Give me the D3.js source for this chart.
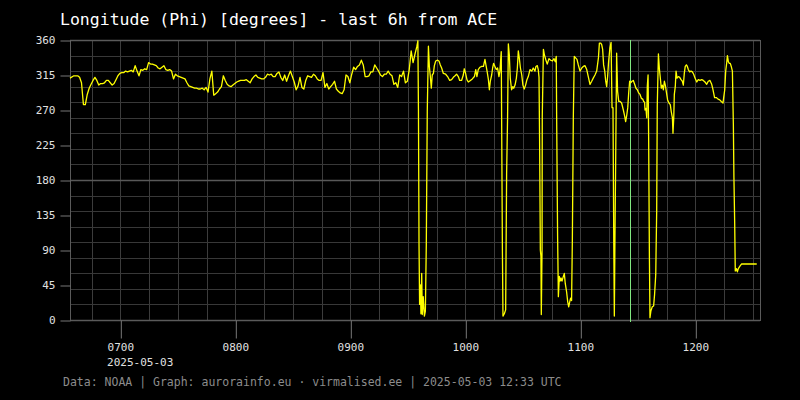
<!DOCTYPE html>
<html><head><meta charset="utf-8">
<script src="https://cdn.jsdelivr.net/npm/d3@7"></script>
<style>html,body{margin:0;padding:0;background:#000;}svg{display:block;}</style>
</head><body><svg id="c" width="800" height="400"></svg>
<script>
const title = "Longitude (Phi) [degrees] - last 6h from ACE";
const footer = "Data: NOAA | Graph: aurorainfo.eu \u00b7 virmalised.ee | 2025-05-03 12:33 UTC";
const startTime = "2025-05-03T06:33:45Z";
const endTime = "2025-05-03T12:33:45Z";
const dateLabel = "2025-05-03";
const yTicks = [0, 45, 90, 135, 180, 225, 270, 315, 360];
const markerTime = "2025-05-03T11:26:03Z";

// minutes after startTime
const minutes = [
  0, 2, 4, 5, 6, 7, 8, 9, 10, 11,
  12, 13, 14, 15, 16, 17, 18, 19, 20, 21,
  22, 23, 24, 25, 26, 27, 28, 29, 30, 31,
  32, 33, 34, 35, 36, 37, 38, 39, 40, 41,
  42, 43, 44, 45, 46, 47, 48, 49, 50, 51,
  52, 53, 54, 55, 56, 57, 58, 59, 60, 61,
  62, 63, 64, 65, 66, 67, 68, 69, 70, 71,
  72, 73, 74, 75, 76, 77, 78, 79, 80, 81,
  82, 83, 84, 85, 86, 87, 88, 89, 90, 91,
  92, 93, 94, 95, 96, 97, 98, 99, 100, 101,
  102, 103, 104, 105, 106, 107, 108, 109, 110, 111,
  112, 113, 114, 115, 116, 117, 118, 119, 120, 121,
  122, 123, 124, 125, 126, 127, 128, 129, 130, 131,
  132, 133, 134, 135, 136, 137, 138, 139, 140, 141,
  142, 143, 144, 145, 146, 147, 148, 149, 150, 151,
  152, 153, 154, 155, 156, 157, 158, 159, 160, 161,
  162, 163, 164, 165, 166, 167, 168, 169, 170, 171,
  172, 173, 174, 175, 176, 177, 178, 179, 180, 181,
  181.5, 181.8, 182.1, 182.4, 182.8, 183.1, 183.5, 183.8, 184.3, 184.9,
  185.4, 185.9, 186.4, 187, 187.5, 188, 188.5, 189, 189.6, 190.1,
  190.8, 191.8, 192.5, 193.2, 193.9, 194.8, 196, 197, 198.1, 199.1,
  200, 200.9, 201.7, 202.6, 203.3, 204.3, 205.2, 205.7, 206.4, 207.1,
  207.8, 208.9, 209.9, 211, 211.7, 212.3, 213, 213.9, 214.8, 215.7,
  216.5, 217, 217.6, 218.3, 218.8, 219.3, 220, 220.5, 221, 221.7,
  222.4, 223.1, 223.8, 224.3, 225, 225.2, 225.6, 225.9, 226.6, 227.3,
  227.8, 228.3, 228.7, 229.2, 229.7, 230.4, 231, 231.5, 232.2, 232.9,
  233.4, 233.9, 234.4, 235, 235.7, 236.3, 237, 237.7, 238.4, 239.1,
  240, 240.9, 241.7, 242.6, 243.1, 243.8, 244.3, 244.7, 245, 245.4,
  245.7, 245.9, 246.3, 246.4, 247, 247.5, 248.2, 249, 249.9, 250.8,
  251.7, 252.5, 253.2, 253.7, 253.9, 254.4, 254.8, 255.3, 255.7, 256.2,
  256.7, 257.4, 257.9, 258.4, 259.1, 259.7, 260.2, 260.7, 261.2, 261.7,
  262.1, 262.6, 263.1, 263.8, 264.5, 265.2, 266.1, 267, 267.8, 268.7,
  269.6, 270.4, 271.3, 272.2, 273, 273.9, 274.8, 275.7, 276.2, 276.9,
  277.4, 277.9, 278.4, 279, 279.5, 280, 280.5, 281, 281.7, 282.3,
  282.8, 283.3, 283.7, 284, 284.3, 284.9, 285.2, 285.7, 286.3, 287,
  287.8, 288.7, 289.4, 289.9, 290.4, 291, 291.5, 292, 292.5, 293.2,
  293.9, 294.6, 295.3, 296, 296.7, 297.4, 298.1, 298.8, 299.3, 299.8,
  300, 300.5, 300.9, 301.2, 301.6, 301.9, 302.3, 302.6, 303.1, 303.8,
  304.5, 305, 305.6, 306.1, 306.4, 307, 307.5, 308, 308.5, 309,
  309.6, 310.1, 310.6, 311.1, 311.8, 312.5, 313.2, 313.7, 314.3, 314.6,
  315, 315.3, 315.8, 316.2, 316.7, 317.4, 318.1, 318.8, 319.5, 320,
  320.5, 321, 321.6, 322.1, 322.6, 323.3, 324, 324.7, 325.4, 326.1,
  327, 327.8, 328.7, 329.6, 330.4, 331.3, 332.2, 333, 333.9, 334.8,
  335.3, 335.8, 336.3, 337.2, 338.1, 339, 339.8, 340.7, 341, 341.6,
  342.1, 342.6, 343, 343.5, 344, 344.5, 345, 345.6, 346.1, 346.4,
  346.8, 347.1, 347.7, 348.2, 348.7, 349.2, 349.7, 350.4, 351.3, 358.3
];

// Longitude Phi in degrees
const phi = [
  311, 314, 314, 312, 305, 277, 277, 290, 298, 303,
  308, 312, 308, 302, 304, 304, 305, 308, 308, 305,
  302, 304, 309, 314, 317, 318, 318, 320, 319, 320,
  321, 319, 327, 320, 314, 322, 321, 323, 322, 331,
  329, 329, 328, 327, 324, 323, 325, 327, 322, 321,
  322, 320, 310, 316, 314, 313, 312, 311, 310, 305,
  301, 300, 299, 298, 298, 297, 297, 298, 296, 299,
  293, 310, 320, 289, 291, 293, 297, 300, 314, 308,
  303, 301, 300, 302, 304, 306, 307, 308, 308, 308,
  309, 307, 305, 310, 313, 315, 312, 311, 310, 310,
  312, 316, 315, 316, 313, 313, 317, 319, 312, 308,
  315, 307, 314, 320, 313, 306, 296, 301, 312, 299,
  297, 308, 314, 313, 312, 316, 314, 310, 308, 308,
  318, 299, 304, 297, 300, 303, 307, 297, 294, 292,
  291, 296, 315, 313, 305, 316, 325, 322, 326, 328,
  334, 328, 313, 313, 314, 319, 319, 328, 324, 320,
  315, 313, 316, 316, 320, 316, 314, 303, 305, 299,
  315, 313, 320, 305, 307, 322, 346, 331, 342, 352,
  359, 272, 97, 20, 45, 8, 60, 7, 30, 5,
  11, 97, 268, 352, 326, 313, 298, 315, 317, 327,
  333, 334, 333, 328, 324, 317, 316, 313, 308, 309,
  312, 314, 316, 313, 308, 308, 315, 323, 317, 309,
  306, 308, 310, 313, 322, 313, 322, 325, 326, 326,
  335, 328, 320, 309, 296, 307, 315, 324, 330, 326,
  322, 324, 313, 320, 345, 260, 90, 5, 8, 13,
  187, 260, 355, 341, 311, 296, 300, 298, 302, 311,
  324, 346, 337, 324, 315, 302, 297, 302, 309, 313,
  322, 320, 324, 320, 326, 327, 322, 312, 234, 90,
  82, 7, 93, 262, 348, 341, 335, 329, 336, 334,
  333, 336, 332, 339, 264, 108, 30, 56, 50, 54,
  50, 56, 60, 47, 36, 23, 17, 23, 28, 25,
  103, 260, 339, 337, 335, 328, 320, 324, 326, 327,
  322, 313, 303, 307, 311, 315, 320, 337, 356, 356,
  354, 348, 328, 320, 307, 300, 313, 332, 350, 357,
  273, 273, 101, 5, 98, 260, 343, 294, 281, 281,
  279, 270, 262, 255, 262, 273, 292, 307, 305, 307,
  308, 303, 298, 296, 292, 290, 285, 284, 281, 280,
  270, 272, 260, 300, 315, 236, 80, 3, 12, 17,
  18, 33, 58, 140, 275, 342, 323, 311, 298, 302,
  296, 307, 302, 294, 283, 279, 277, 268, 260, 240,
  260, 290, 300, 320, 311, 313, 312, 309, 307, 302,
  317, 326, 328, 326, 322, 319, 320, 319, 316, 311,
  306, 309, 308, 309, 308, 306, 303, 307, 308, 303,
  298, 292, 286, 286, 284, 283, 281, 279, 285, 296,
  320, 330, 340, 332, 330, 330, 326, 320, 251, 183,
  123, 63, 66, 62, 66, 68, 70, 72, 72, 72
];

const FONT = "'DejaVu Sans Mono', 'Liberation Mono', monospace";
const svg = d3.select("#c");
const L = 70, R = 760, T = 40, B = 320;
const t0 = new Date(startTime);
const x = d3.scaleUtc().domain([t0, new Date(endTime)]).range([L, R]);
const y = d3.scaleLinear().domain([0, 360]).range([B, T]);
const px = v => Math.round(v) + 0.5;

svg.append("rect").attr("width", 800).attr("height", 400).attr("fill", "#000");

// grid
const g = svg.append("g");
g.selectAll("line.vg").data(x.ticks(d3.utcMinute.every(15))).join("line")
  .attr("x1", d => px(x(d))).attr("x2", d => px(x(d)))
  .attr("y1", T).attr("y2", B).attr("stroke", "#3c3c3c").attr("stroke-width", 1);
g.selectAll("line.hg").data(y.ticks(24)).join("line")
  .attr("x1", L).attr("x2", R)
  .attr("y1", d => px(y(d))).attr("y2", d => px(y(d)))
  .attr("stroke", d => d % 45 === 0 ? "#585858" : "#383838")
  .attr("stroke-width", d => d % 45 === 0 ? 1.5 : 1);

// frame
svg.append("rect").attr("x", L + 0.5).attr("y", T + 0.5).attr("width", R - L).attr("height", B - T)
  .attr("fill", "none").attr("stroke", "#5a5a5a");

// marker line
svg.append("line").attr("x1", px(x(new Date(markerTime)))).attr("x2", px(x(new Date(markerTime))))
  .attr("y1", T).attr("y2", B + 2).attr("stroke", "#80e880").attr("stroke-width", 1);

// data line
const data = minutes.map((m, i) => ({ t: new Date(t0.getTime() + m * 60000), v: phi[i] }));
svg.append("path").datum(data)
  .attr("fill", "none").attr("stroke", "#ffff00").attr("stroke-width", 1.3)
  .attr("stroke-linejoin", "round")
  .attr("d", d3.line().x(d => x(d.t)).y(d => y(d.v)));

// axes
const yAxis = svg.append("g").attr("transform", `translate(${L + 0.5},0)`)
  .call(d3.axisLeft(y).tickValues(yTicks).tickSize(10).tickPadding(5).tickFormat(d3.format("d")));
yAxis.select(".domain").remove();
yAxis.selectAll(".tick line").attr("stroke", "#777").attr("transform", "translate(0,0.5)");
yAxis.selectAll("text").attr("fill", "#e0e0e0").style("font-family", FONT).style("font-size", "11px");

const xAxis = svg.append("g").attr("transform", `translate(0,${B + 0.5})`)
  .call(d3.axisBottom(x).ticks(d3.utcHour.every(1)).tickFormat(d3.utcFormat("%H%M")).tickSize(18).tickPadding(5));
xAxis.select(".domain").remove();
xAxis.selectAll(".tick line").attr("stroke", "#777").attr("transform", "translate(0.5,0)");
xAxis.selectAll("text").attr("fill", "#e0e0e0").style("font-family", FONT).style("font-size", "11px");

// date label under first hour tick, left-aligned with it
const firstHour = x.ticks(d3.utcHour.every(1))[0];
const firstLabel = xAxis.select(".tick text").node();
const w = firstLabel.getComputedTextLength();
svg.append("text").attr("x", x(firstHour) - w / 2).attr("y", 366)
  .attr("fill", "#e0e0e0").style("font-family", FONT).style("font-size", "11px").text(dateLabel);

// title
svg.append("text").attr("x", 60).attr("y", 25).attr("fill", "#ffffff")
  .style("font-family", FONT).style("font-size", "16.5px").text(title);

// footer
svg.append("text").attr("x", 63).attr("y", 386).attr("fill", "#8c8c8c")
  .style("font-family", FONT).style("font-size", "11.5px").text(footer);
</script></body></html>
